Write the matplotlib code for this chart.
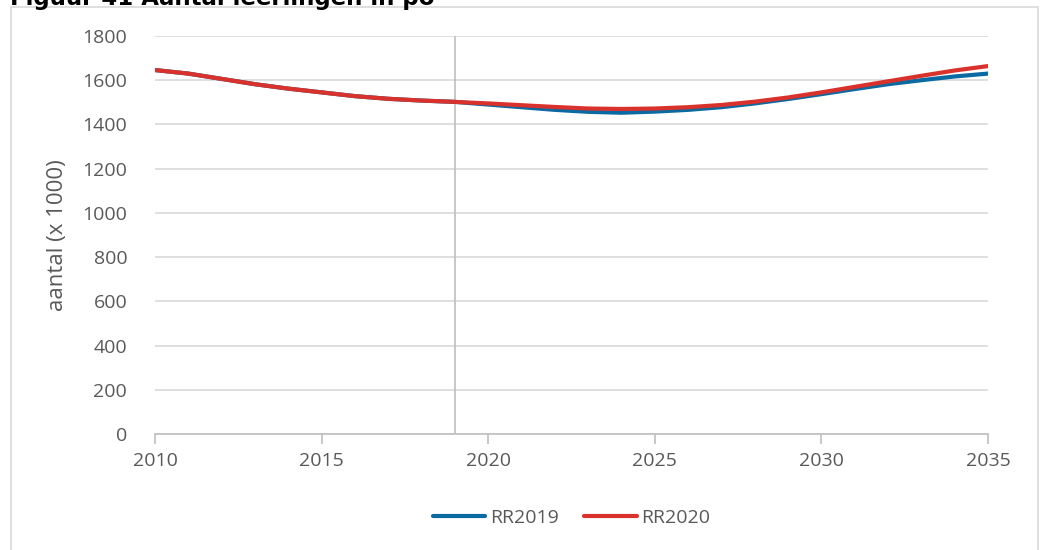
import matplotlib
matplotlib.use("Agg")
import matplotlib.pyplot as plt
from matplotlib.patches import Rectangle

plt.rcParams["font.family"] = ["Open Sans", "DejaVu Sans"]

# ── Data (aflezing uit figuur, x 1000) ───────────────────────────
years = list(range(2010, 2036))
rr2019 = [1646, 1630, 1606, 1582, 1562, 1545, 1528, 1516, 1508, 1502,
          1490, 1478, 1466, 1457, 1453, 1458, 1466, 1478, 1495, 1515,
          1537, 1560, 1582, 1600, 1617, 1630]
rr2020 = [1646, 1630, 1606, 1582, 1562, 1545, 1528, 1516, 1508, 1502,
          1495, 1487, 1479, 1472, 1470, 1472, 1478, 1488, 1503, 1522,
          1545, 1570, 1595, 1620, 1644, 1664]
series_names = ["RR2019", "RR2020"]
xticks = [2010, 2015, 2020, 2025, 2030, 2035]
yticks = list(range(0, 1801, 200))
split_year = 2019

BLUE = "#0a6aa1"
RED = "#d9312b"
GRID = "#d9d9d9"
TXT = "#595959"

W, H = 1042, 550
fig = plt.figure(figsize=(W / 100, H / 100), dpi=100)
ax = fig.add_axes([155 / W, 1 - 434 / H, (988 - 155) / W, (434 - 36) / H])

# kader rond grafiek
fig.patches.append(Rectangle((11 / W, -0.05), (1038 - 11) / W, 1.05 - 7 / H,
                             transform=fig.transFigure, fill=False,
                             edgecolor=GRID, linewidth=1.2))

# titel (bovenkant valt buiten beeld, zoals in origineel)
fig.text(10 / W, 1 - 5 / H, "Figuur 41 Aantal leerlingen in po",
         fontsize=16.5, fontweight="bold", family="DejaVu Sans",
         color="black", va="baseline", ha="left")

ax.plot(years, rr2019, color=BLUE, lw=3, solid_capstyle="round", label=series_names[0], zorder=3)
ax.plot(years, rr2020, color=RED, lw=3, solid_capstyle="round", label=series_names[1], zorder=4)
ax.axvline(split_year, color="#bfbfbf", lw=1.2, zorder=2)

ax.set_xlim(2010, 2035)
ax.set_ylim(0, 1800)
ax.set_xticks(xticks)
ax.set_yticks(yticks)
ax.grid(axis="y", color=GRID, lw=1.2, zorder=0)
for s in ["top", "right", "left"]:
    ax.spines[s].set_visible(False)
ax.spines["bottom"].set_color("#bfbfbf")
ax.spines["bottom"].set_linewidth(1.2)
ax.tick_params(axis="x", colors="#bfbfbf", length=7, width=1.2, direction="out",
               labelcolor=TXT, labelsize=14, pad=6)
ax.tick_params(axis="y", length=0, labelcolor=TXT, labelsize=14, pad=20)
ax.set_ylabel("aantal (x 1000)", fontsize=16, color=TXT, labelpad=10)

ax.legend(loc="center", bbox_to_anchor=(0.5, -0.21), ncol=2, frameon=False,
          fontsize=14, labelcolor=TXT, handlelength=2.7, handletextpad=0.25,
          columnspacing=1.3)

fig.savefig("out.png", dpi=100, facecolor="white")
